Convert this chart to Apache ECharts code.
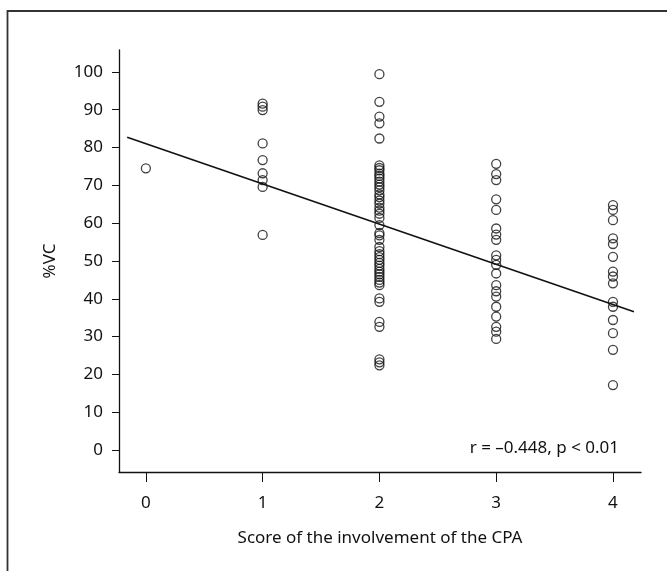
<!DOCTYPE html>
<html>
<head>
<meta charset="utf-8">
<script src="https://cdn.jsdelivr.net/npm/echarts@6/dist/echarts.min.js"></script>
<style>
  html, body { margin: 0; padding: 0; background: #fff; }
  #chart { width: 667px; height: 571px; }
</style>
</head>
<body>
<div id="chart"></div>
<script>
// Involvement score of the CPA (x) against %VC (y), one array per score
const scoreLevels = [0, 1, 2, 3, 4];
const vcScore0 = [74.5];
const vcScore1 = [91.6, 90.8, 89.9, 81.1, 76.7, 73.2, 71.4, 69.6, 56.9];
const vcScore2 = [
  99.4, 92.1, 88.2, 86.4, 82.4,
  75.3, 74.6, 74.0, 73.1, 72.5, 71.8, 71.0, 70.2, 69.5, 68.7, 67.6, 66.9,
  66.0, 65.2, 64.1, 63.3, 62.5, 61.4, 59.5, 57.4, 56.8, 55.6, 53.7, 52.6,
  51.8, 51.0, 50.3, 49.5, 48.8, 47.9, 47.2, 46.5, 45.8, 45.0, 44.3, 43.6,
  40.1, 39.2, 33.9, 32.6, 24.0, 23.2, 22.4
];
const vcScore3 = [75.7, 73.0, 71.4, 66.3, 63.5, 58.6, 57.0, 55.6, 51.5, 50.3, 49.0,
  46.7, 43.6, 42.0, 40.6, 37.9, 35.3, 32.6, 31.3, 29.4];
const vcScore4 = [64.8, 63.5, 60.8, 56.0, 54.5, 51.1, 47.2, 45.9, 44.1, 39.2, 37.9,
  34.4, 30.9, 26.5, 17.2];

// Tick values
const xTicks = [0, 1, 2, 3, 4];
const yTicks = [0, 10, 20, 30, 40, 50, 60, 70, 80, 90, 100];

// Least-squares line and its drawn extent
const fitIntercept = 81.0;
const fitSlope = -10.62;
const fitRange = [-0.16, 4.18];
const statText = 'r = \u20130.448, p < 0.01';

const groups = [vcScore0, vcScore1, vcScore2, vcScore3, vcScore4];
const points = [];
groups.forEach((vals, i) => vals.forEach(v => points.push([scoreLevels[i], v])));
const fitLine = fitRange.map(x => [x, fitIntercept + fitSlope * x]);

const FONT = 'Noto Sans';
const ink = '#111';

const chart = echarts.init(document.getElementById('chart'), null, { renderer: 'canvas' });
chart.setOption({
  animation: false,
  backgroundColor: '#fff',
  grid: { left: 119, top: 50, right: 26, bottom: 99, containLabel: false },
  xAxis: {
    type: 'value',
    min: -0.23,
    max: 4.24,
    name: 'Score of the involvement of the CPA',
    nameLocation: 'middle',
    nameGap: 58,
    nameTextStyle: { fontFamily: FONT, fontSize: 17, color: ink },
    axisLine: { show: true, onZero: false, lineStyle: { color: ink, width: 1.3 } },
    axisTick: { show: true, inside: false, length: 10, customValues: xTicks,
      lineStyle: { color: ink, width: 1 } },
    axisLabel: { show: true, customValues: xTicks, margin: 23,
      fontFamily: FONT, fontSize: 17, color: ink },
    splitLine: { show: false }
  },
  yAxis: {
    type: 'value',
    min: -5.8,
    max: 105.8,
    name: '%VC',
    nameLocation: 'middle',
    nameGap: 60,
    nameRotate: 90,
    nameTextStyle: { fontFamily: FONT, fontSize: 17, color: ink },
    axisLine: { show: true, onZero: false, lineStyle: { color: ink, width: 1.3 } },
    axisTick: { show: true, inside: false, length: 7, customValues: yTicks,
      lineStyle: { color: ink, width: 1 } },
    axisLabel: { show: true, customValues: yTicks, margin: 16,
      fontFamily: FONT, fontSize: 17, color: ink },
    splitLine: { show: false }
  },
  series: [
    {
      type: 'scatter',
      data: points,
      symbol: 'circle',
      symbolSize: 9,
      itemStyle: { color: 'rgba(0,0,0,0)', borderColor: ink, borderWidth: 1.3 },
      z: 3
    },
    {
      type: 'line',
      data: fitLine,
      symbol: 'none',
      lineStyle: { color: ink, width: 1.6 },
      z: 2
    }
  ],
  graphic: [
    {
      type: 'rect',
      shape: { x: 7.5, y: 11, width: 700, height: 600 },
      style: { fill: 'none', stroke: '#333', lineWidth: 1.8 },
      silent: true
    },
    {
      type: 'text',
      right: 48,
      top: 440,
      style: { text: statText, font: '17px "Noto Sans"', fill: ink }
    }
  ]
});
</script>
</body>
</html>
